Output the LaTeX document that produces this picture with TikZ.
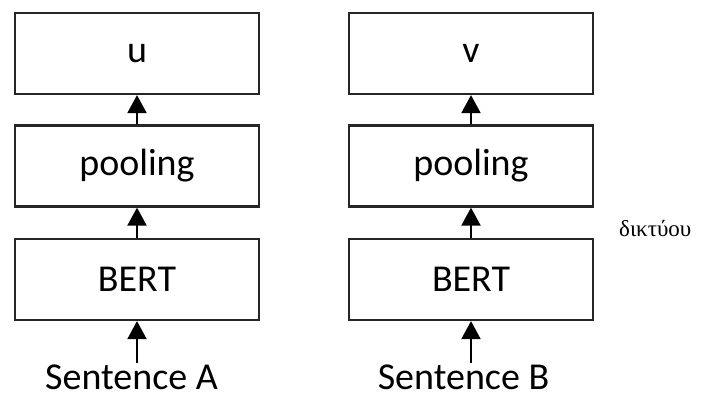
\documentclass[tikz,border=0pt]{standalone}
\usepackage{fontspec}
\setmainfont{Carlito}
\newfontfamily\greekfont{Liberation Serif}
\usetikzlibrary{arrows.meta}
\begin{document}
\begin{tikzpicture}[x=1pt,y=-1pt,
  blk/.style={draw=black!85,line width=2.2pt,minimum width=244pt,minimum height=81pt,inner sep=0pt,font=\fontsize{38}{44}\selectfont},
  lbl/.style={anchor=base,inner sep=0pt,text depth=0pt,font=\fontsize{38}{44}\selectfont},
  arr/.style={line width=2pt,-{Triangle[width=19pt,length=18pt]}}]
\useasboundingbox (0,0) rectangle (707,399);
\node[blk] (u) at (137,53.5) {u};
\node[blk] (pa) at (137,166) {pooling};
\node[blk] (ba) at (137,279.5) {BERT};
\node[blk] (v) at (471,53.5) {v};
\node[blk] (pb) at (471,166) {pooling};
\node[blk] (bb) at (471,279.5) {BERT};
\node[lbl] (sa) at (131.5,389) {Sentence A};
\node[lbl] (sb) at (463.5,389) {Sentence B};
\coordinate (sat) at (137,363);
\coordinate (sbt) at (471,363);
\draw[arr] (pa.north) -- (u.south);
\draw[arr] (ba.north) -- (pa.south);
\draw[arr] (sat) -- (ba.south);
\draw[arr] (pb.north) -- (v.south);
\draw[arr] (bb.north) -- (pb.south);
\draw[arr] (sbt) -- (bb.south);
\node[anchor=base west,inner sep=0pt,font=\greekfont\fontsize{23}{27}\selectfont] (g) at (619,236) {δικτύου};
\end{tikzpicture}
\end{document}
